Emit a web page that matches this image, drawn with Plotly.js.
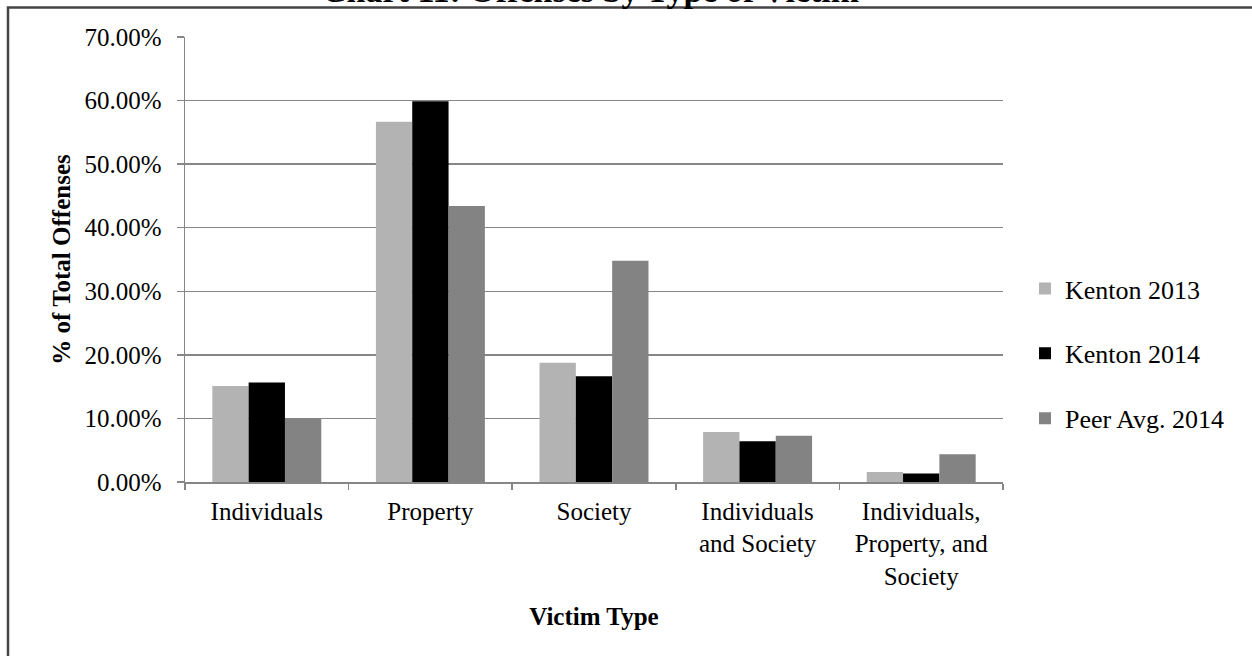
<!DOCTYPE html>
<html>
<head>
<meta charset="utf-8">
<script src="https://cdn.plot.ly/plotly-3.0.1.min.js"></script>
<style>html,body{margin:0;padding:0;background:#fff;}#chart{width:1252px;height:656px;}</style>
</head>
<body>
<div id="chart"></div>
<script>
const categories = ["Individuals", "Property", "Society", "Individuals<br>and Society", "Individuals,<br>Property, and<br>Society"];
const kenton2013 = [0.1510, 0.5665, 0.1875, 0.0785, 0.0158];
const kenton2014 = [0.1565, 0.5990, 0.1665, 0.0640, 0.0132];
const peer2014   = [0.1000, 0.4340, 0.3480, 0.0728, 0.0436];
const seriesNames = ["Kenton 2013", "Kenton 2014", "Peer Avg. 2014"];
const yTicks = [0, 0.1, 0.2, 0.3, 0.4, 0.5, 0.6, 0.7];
const chartTitle = "Chart 11: Offenses by Type of Victim";

const FONT = "Liberation Serif, Times New Roman, serif";
const colors = ["#b3b3b3", "#000000", "#838383"];
const series = [kenton2013, kenton2014, peer2014];

const traces = series.map((vals, i) => ({
  type: "bar",
  name: seriesNames[i],
  x: categories,
  y: vals,
  marker: {color: colors[i], line: {width: 0}},
  legendgroup: "g" + i,
  hoverinfo: "x+y+name"
}));

// plot area: x 185..1003, y 37..482.5
const L = 185, R = 1003, T = 37, B = 482.5;
const px = v => (v - L) / (R - L);
const py = v => (B - v) / (B - T);

const layout = {
  width: 1252, height: 656,
  margin: {l: L, r: 1252 - R, t: T, b: 656 - B},
  paper_bgcolor: "#ffffff",
  plot_bgcolor: "#ffffff",
  font: {family: FONT, size: 25, color: "#000"},
  barmode: "group",
  bargap: 0.334,
  bargroupgap: 0,
  xaxis: {
    type: "category",
    showline: true, linecolor: "#868686", linewidth: 1.5,
    ticks: "outside", tickson: "boundaries", ticklen: 6, tickcolor: "#868686", tickwidth: 1.5,
    ticklabelstandoff: 6,
    tickfont: {family: FONT, size: 25, color: "#000"},
    showgrid: false,
    title: {text: "<b>Victim Type</b>", font: {family: FONT, size: 25, color: "#000"}, standoff: 19},
    automargin: false
  },
  yaxis: {
    range: [0, 0.7],
    tickvals: yTicks,
    tickformat: ".2%",
    showline: true, linecolor: "#868686", linewidth: 1.5,
    ticks: "outside", ticklen: 7, tickcolor: "#868686", tickwidth: 1.5,
    ticklabelstandoff: 10,
    showgrid: true, gridcolor: "#868686", gridwidth: 1.5,
    zeroline: false,
    tickfont: {family: FONT, size: 25, color: "#000"},
    title: {text: "<b>% of Total Offenses</b>", font: {family: FONT, size: 25, color: "#000"}, standoff: 6},
    automargin: false
  },
  legend: {
    x: px(1025), xanchor: "left",
    y: py(354), yanchor: "middle",
    traceorder: "grouped",
    tracegroupgap: 28,
    font: {family: FONT, size: 26, color: "#000"},
    itemwidth: 30,
    bgcolor: "rgba(0,0,0,0)"
  },
  annotations: [{
    text: "<b>" + chartTitle + "</b>",
    xref: "paper", yref: "paper",
    x: px(590), xanchor: "center",
    y: py(10.5), yanchor: "bottom",
    showarrow: false,
    font: {family: FONT, size: 34, color: "#000"}
  }],
  shapes: [{
    type: "rect", xref: "paper", yref: "paper",
    x0: px(8), x1: px(1290), y0: py(720), y1: py(7.5),
    line: {color: "#454545", width: 2.5},
    fillcolor: "rgba(0,0,0,0)", layer: "below"
  }],
  showlegend: true
};

Plotly.newPlot("chart", traces, layout, {displayModeBar: false, staticPlot: true});
</script>
</body>
</html>
